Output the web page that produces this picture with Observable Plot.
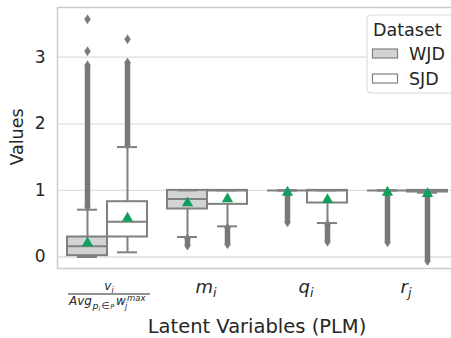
<!DOCTYPE html>
<html><head><meta charset="utf-8">
<script src="https://cdn.jsdelivr.net/npm/d3@7"></script>
<script src="https://cdn.jsdelivr.net/npm/@observablehq/plot@0.6"></script>
<style>
body{margin:0;background:#fff;}
#wrap{width:451px;height:338px;overflow:hidden;position:relative;}
#wrap svg{max-width:none !important;font-family:"DejaVu Sans",sans-serif;}
</style></head><body><div id="wrap"></div>
<script>
const categories = ["v", "m", "q", "r"];
const yTicks = [0, 1, 2, 3];
// WJD summary values per category
const wjdQ1 = [0.02, 0.72, 1.0, 1.0];
const wjdMedian = [0.16, 0.87, 1.0, 1.0];
const wjdQ3 = [0.30, 1.0, 1.0, 1.0];
const wjdWhiskerLow = [0.0, 0.30, 1.0, 1.0];
const wjdWhiskerHigh = [0.71, 1.0, 1.0, 1.0];
const wjdMean = [0.21, 0.81, 0.97, 0.97];
const wjdOutlierLow = [0.75, 0.17, 0.52, 0.22];
const wjdOutlierHigh = [2.88, 0.28, 0.98, 0.98];
const wjdIsolated = [[3.09, 3.57], [], [], []];
// SJD summary values per category
const sjdQ1 = [0.30, 0.79, 0.81, 0.975];
const sjdMedian = [0.53, 1.0, 1.0, 1.0];
const sjdQ3 = [0.83, 1.0, 1.0, 1.0];
const sjdWhiskerLow = [0.07, 0.46, 0.51, 0.965];
const sjdWhiskerHigh = [1.65, 1.0, 1.0, 1.0];
const sjdMean = [0.58, 0.87, 0.86, 0.95];
const sjdOutlierLow = [1.68, 0.19, 0.23, -0.06];
const sjdOutlierHigh = [2.92, 0.44, 0.49, 0.95];
const sjdIsolated = [[3.27], [], [], []];

function build(ds, q1, med, q3, wl, wh, mean, ol, oh, iso) {
  return categories.map((c, i) => ({cat: c, ds, q1: q1[i], med: med[i], q3: q3[i], wl: wl[i], wh: wh[i], mean: mean[i], ol: ol[i], oh: oh[i], iso: iso[i]}));
}
const wjd = build("WJD", wjdQ1, wjdMedian, wjdQ3, wjdWhiskerLow, wjdWhiskerHigh, wjdMean, wjdOutlierLow, wjdOutlierHigh, wjdIsolated);
const sjd = build("SJD", sjdQ1, sjdMedian, sjdQ3, sjdWhiskerLow, sjdWhiskerHigh, sjdMean, sjdOutlierLow, sjdOutlierHigh, sjdIsolated);

const gray = "#808080";
const outGray = "#787878";
const green = "#0fa060";
const thinDiamond = {
  draw(ctx, size) {
    const r = Math.sqrt(size / Math.PI);
    const w = r * 0.65;
    ctx.moveTo(0, -r); ctx.lineTo(w, 0); ctx.lineTo(0, r); ctx.lineTo(-w, 0); ctx.closePath();
  }
};

function boxMarks(data, o, fill) {
  const pts = [];
  data.forEach(d => {
    pts.push({cat: d.cat, y: d.ol}, {cat: d.cat, y: d.oh});
    d.iso.forEach(v => pts.push({cat: d.cat, y: v}));
  });
  return [
    Plot.ruleX(data, {x: "cat", y1: "ol", y2: "oh", dx: o.dx, stroke: outGray, strokeWidth: 5.5}),
    Plot.dot(pts, {x: "cat", y: "y", dx: o.dx, symbol: thinDiamond, r: 4.5, fill: outGray, stroke: outGray, strokeWidth: 0.5}),
    Plot.ruleX(data, {x: "cat", y1: "wl", y2: "q1", dx: o.dx, stroke: gray, strokeWidth: 2}),
    Plot.ruleX(data, {x: "cat", y1: "q3", y2: "wh", dx: o.dx, stroke: gray, strokeWidth: 2}),
    Plot.barY(data, {x: "cat", y1: "q1", y2: "q3", insetLeft: o.il, insetRight: o.ir, fill, stroke: gray, strokeWidth: 2}),
    Plot.tickY(data, {x: "cat", y: "med", insetLeft: o.il, insetRight: o.ir, stroke: gray, strokeWidth: 2}),
    Plot.tickY(data, {x: "cat", y: "wl", insetLeft: o.cl, insetRight: o.cr, stroke: gray, strokeWidth: 2}),
    Plot.tickY(data, {x: "cat", y: "wh", insetLeft: o.cl, insetRight: o.cr, stroke: gray, strokeWidth: 2}),
    Plot.dot(data, {x: "cat", y: "mean", dx: o.dx, symbol: "triangle", r: 4.2, fill: green, stroke: "none"})
  ];
}

const plot = Plot.plot({
  width: 457,
  height: 338,
  marginLeft: 57,
  marginRight: 0,
  marginTop: 7,
  marginBottom: 70,
  style: {fontSize: "17px", fontFamily: "DejaVu Sans", color: "#262626", background: "white", maxWidth: "none"},
  x: {domain: categories, padding: 0, axis: null},
  y: {domain: [-0.173, 3.746], ticks: yTicks, tickFormat: "d", tickSize: 0, tickPadding: 12, label: null},
  marks: [
    Plot.gridY(yTicks, {stroke: "#dedede", strokeOpacity: 1, strokeWidth: 1.3}),
    Plot.frame({stroke: "#cccccc", strokeWidth: 1.5}),
    ...boxMarks(wjd, {dx: -20, il: 10, ir: 50, cl: 20, cr: 60}, "#d3d3d3"),
    ...boxMarks(sjd, {dx: 20, il: 50, ir: 10, cl: 60, cr: 20}, "white")
  ]
});
document.getElementById("wrap").appendChild(plot);

const svg = d3.select(plot);
const xs = plot.scale("x");
const cx = c => xs.apply(c) + xs.bandwidth / 2;
const ink = "#262626";

// Axis titles
svg.append("text").attr("transform", "translate(23,137) rotate(-90)").attr("text-anchor", "middle")
  .attr("font-size", 17.5).attr("fill", ink).text("Values");
svg.append("text").attr("x", (xs.range[0] + xs.range[1]) / 2).attr("y", 333).attr("text-anchor", "middle")
  .attr("font-size", 19.5).attr("fill", ink).text("Latent Variables (PLM)");

// Fraction label for v
const c0 = cx("v") + 2;
const fr = svg.append("g").attr("fill", ink).attr("font-style", "italic").attr("text-anchor", "start");
const num = fr.append("text").attr("x", c0).attr("y", 290).attr("text-anchor", "middle").attr("font-size", 12);
num.append("tspan").text("v");
num.append("tspan").attr("font-size", 8).attr("dy", 3).text("i");
fr.append("line").attr("x1", c0 - 41).attr("x2", c0 + 41).attr("y1", 294).attr("y2", 294).attr("stroke", ink).attr("stroke-width", 1);
fr.append("text").attr("x", c0 - 40).attr("y", 305).attr("font-size", 12).text("Avg");
const sub = fr.append("text").attr("x", c0 - 16.5).attr("y", 309).attr("font-size", 9.5);
sub.append("tspan").text("p");
sub.append("tspan").attr("font-size", 6.5).attr("dy", 2).text("i");
sub.append("tspan").attr("dy", -2).attr("dx", 1).attr("font-style", "normal").text("\u2208");
sub.append("tspan").attr("font-size", 6.5).attr("dx", 0.5).text("P");
fr.append("text").attr("x", c0 + 7).attr("y", 305).attr("font-size", 12).text("w");
fr.append("text").attr("x", c0 + 16).attr("y", 309).attr("font-size", 8).text("j");
fr.append("text").attr("x", c0 + 18).attr("y", 301).attr("font-size", 8.5).text("max");

// Simple math labels
[["m", "m", "i"], ["q", "q", "i"], ["r", "r", "j"]].forEach(([c, base, s]) => {
  const t = svg.append("text").attr("x", cx(c) - 1).attr("y", 293).attr("text-anchor", "middle")
    .attr("font-size", 18).attr("font-style", "italic").attr("fill", ink);
  t.append("tspan").text(base);
  t.append("tspan").attr("font-size", 12.5).attr("dy", 4).text(s);
});

// Legend
const lg = svg.append("g").attr("text-anchor", "start");
lg.append("rect").attr("x", 367).attr("y", 15).attr("width", 95).attr("height", 78).attr("rx", 4)
  .attr("fill", "white").attr("fill-opacity", 0.85).attr("stroke", "#d8d8d8").attr("stroke-width", 1);
lg.append("text").attr("x", 373).attr("y", 36).attr("font-size", 17.5).attr("fill", ink).text("Dataset");
[["WJD", "#d3d3d3", 49], ["SJD", "white", 74]].forEach(([name, f, y]) => {
  lg.append("rect").attr("x", 372.5).attr("y", y).attr("width", 25).attr("height", 9)
    .attr("fill", f).attr("stroke", gray).attr("stroke-width", 1.2);
  lg.append("text").attr("x", 409).attr("y", y + 10.5).attr("font-size", 17.5).attr("fill", ink).text(name);
});
</script></body></html>
